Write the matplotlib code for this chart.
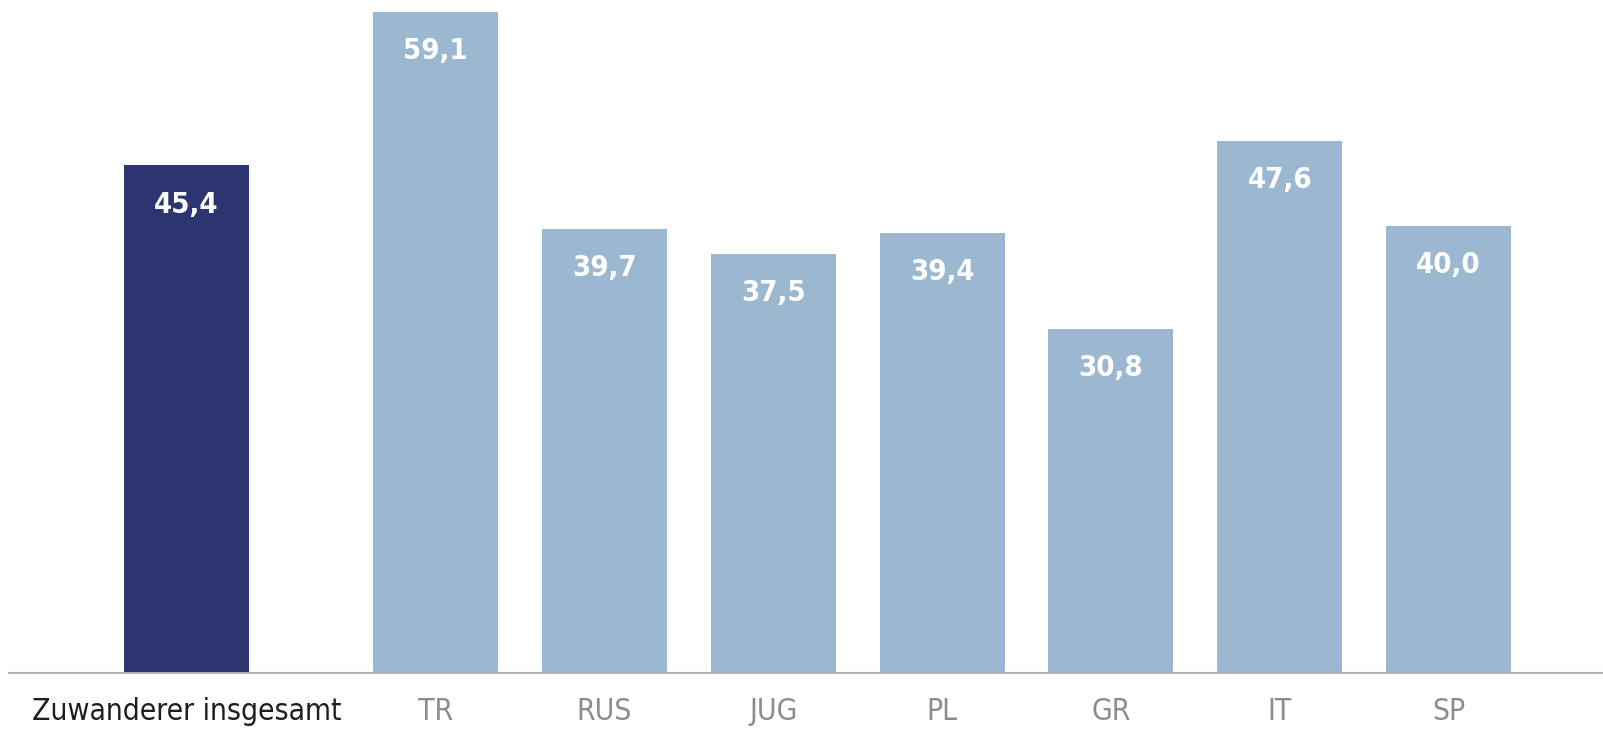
import numpy as np
import matplotlib.pyplot as plt

categories = ["Zuwanderer insgesamt", "TR", "RUS", "JUG", "PL", "GR", "IT", "SP"]
values = [45.4, 59.1, 39.7, 37.5, 39.4, 30.8, 47.6, 40.0]

fig = plt.figure(figsize=(16.03, 7.29), dpi=100)
W, H = 1603, 729
ax = fig.add_axes([9 / W, (H - 673) / H, (W - 9) / W, 673 / H])

pos = np.array([0] + [1.475 + i for i in range(7)])
colors = ["#2c3570"] + ["#9cb7d0"] * 7
ax.bar(pos, values, width=0.74, color=colors)

for x, v in zip(pos, values):
    ax.text(x, v - 3.5, f"{v:.1f}".replace(".", ","), ha="center", va="center",
            color="white", fontsize=21, fontweight="bold", stretch="condensed")

ax.set_xlim(-1.052, 8.39)
ax.set_ylim(0, 60.2)
ax.set_yticks([])
ax.set_xticks(pos)
ax.set_xticklabels(categories, fontsize=21.5, stretch="condensed")
ax.tick_params(axis="x", length=0, pad=17)
for i, lab in enumerate(ax.get_xticklabels()):
    lab.set_color("#1e1e1e" if i == 0 else "#8c8c8c")
for s in ["top", "left", "right"]:
    ax.spines[s].set_visible(False)
ax.spines["bottom"].set_color("#b4b4b4")
ax.spines["bottom"].set_linewidth(1.5)

fig.savefig("out.png", dpi=100)
